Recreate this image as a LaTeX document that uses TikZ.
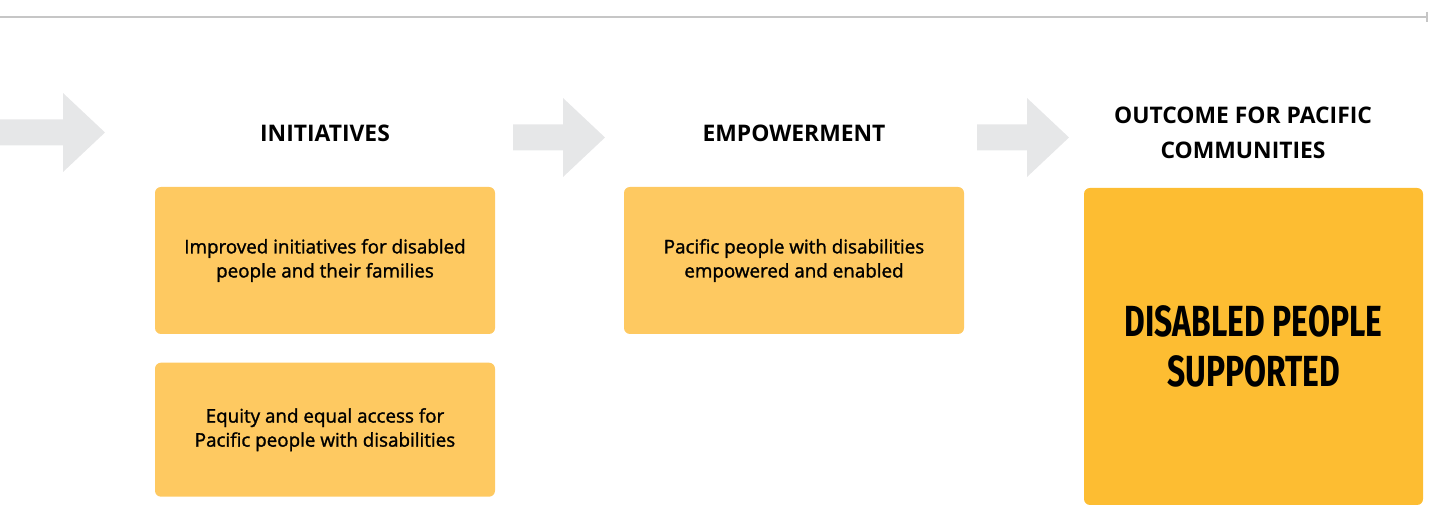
\documentclass[tikz,border=0pt]{standalone}
\usepackage{fontspec}
\setmainfont{Open Sans}
\newfontfamily\boxfont[FakeBold=1.4]{Open Sans}
\newfontfamily\postfont[FakeStretch=0.73]{Fira Sans}
\usetikzlibrary{positioning}
\definecolor{arrowgrey}{HTML}{E6E7E8}
\definecolor{rulegrey}{HTML}{C6C6C6}
\definecolor{boxamber}{HTML}{FEC961}
\definecolor{outamber}{HTML}{FDBD32}

\begin{document}
\begin{tikzpicture}[
    heading/.style={text=black, align=center, font=\fontsize{13}{19.9}\selectfont\bfseries},
    result/.style={fill=boxamber, text=black, align=center, rounded corners=3.4pt, inner sep=0pt,
        minimum width=68mm, minimum height=29.4mm, font=\boxfont\fontsize{10.7}{13.7}\selectfont},
    outcome/.style={fill=outamber, text=black, align=center, rounded corners=3.4pt, inner sep=0pt,
        minimum width=67.8mm, minimum height=63.4mm, font=\postfont\bfseries\fontsize{24.8}{28.5}\selectfont},
    flowarrow/.style={fill=arrowgrey, draw=none},
    rule/.style={draw=rulegrey, line width=1.4pt}
]
\useasboundingbox (0,0) rectangle (28.74,10.14);

% top rule
\coordinate (ruleL) at (0,9.80);
\coordinate (ruleR) at (28.54,9.80);
\draw[rule] (ruleL) -- (ruleR);
\draw[rule] ([yshift=1mm]ruleR) -- ([yshift=-1mm]ruleR);

% grey block arrows: shaft start / head start / centre
\foreach \s/\h/\c in {0/1.26/7.49, 10.26/11.26/7.39, 19.54/20.54/7.39}
    \fill[flowarrow] (\s,\c+0.26) -- (\h,\c+0.26) -- (\h,\c+0.79) -- (\h+0.84,\c)
        -- (\h,\c-0.79) -- (\h,\c-0.26) -- (\s,\c-0.26) -- cycle;

\node[heading] (hinit) at (6.50,7.48) {INITIATIVES};
\node[heading] (hemp) at (15.88,7.48) {EMPOWERMENT};
\node[heading] (hout) at (24.86,7.49) {OUTCOME FOR PACIFIC\\COMMUNITIES};

\node[result] (improved) at (6.50,4.93) {Improved initiatives for disabled\\people and their families};
\node[result, minimum height=26.8mm, below=5.6mm of improved] (equity) {Equity and equal access for\\Pacific people with disabilities};
\node[result] (enabled) at (15.88,4.93) {Pacific people with disabilities\\empowered and enabled};
\node[outcome] (supported) at (25.07,3.21) {DISABLED PEOPLE\\SUPPORTED};
\end{tikzpicture}
\end{document}
